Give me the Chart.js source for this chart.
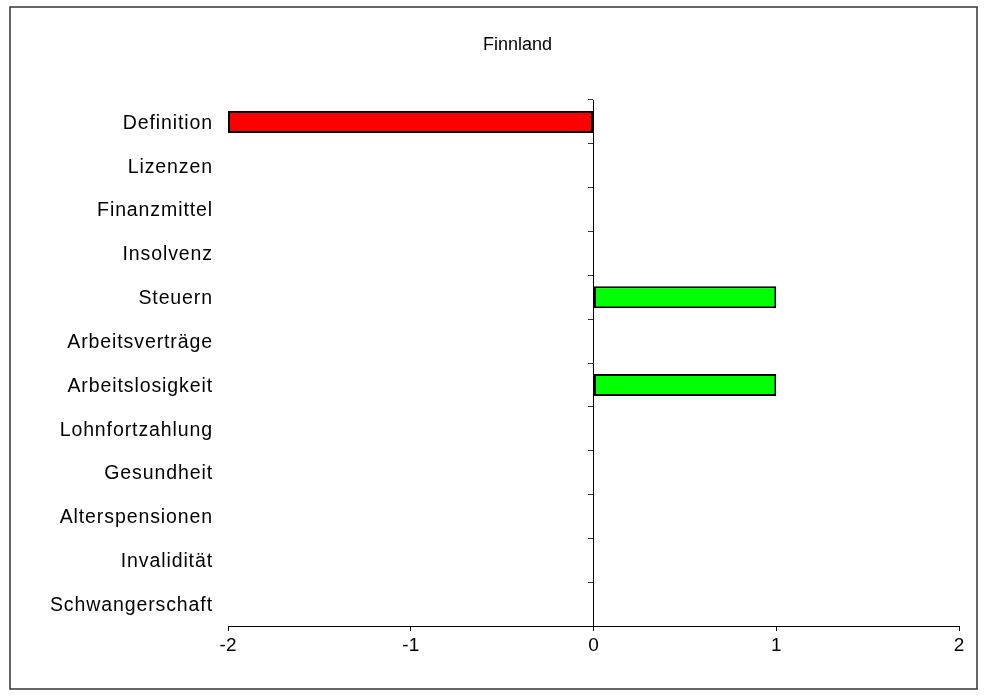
<!DOCTYPE html>
<html>
<head>
<meta charset="utf-8">
<title>Finnland</title>
<script src="https://cdn.jsdelivr.net/npm/chart.js@4/dist/chart.umd.min.js"></script>
<style>
  html, body { margin: 0; padding: 0; background: #fff; }
  #wrap { width: 984px; height: 696px; }
</style>
</head>
<body>
<div id="wrap"><canvas id="chart" width="984" height="696"></canvas></div>
<script>
// Categories, top to bottom
const categories = [
  'Definition', 'Lizenzen', 'Finanzmittel', 'Insolvenz', 'Steuern',
  'Arbeitsverträge', 'Arbeitslosigkeit', 'Lohnfortzahlung', 'Gesundheit',
  'Alterspensionen', 'Invalidität', 'Schwangerschaft'
];
// Score per category
const scores = [-2, 0, 0, 0, 1, 0, 1, 0, 0, 0, 0, 0];
// Value axis range and ticks
const xTicks = [-2, -1, 0, 1, 2];
const chartTitle = 'Finnland';

const FONT = '"Liberation Sans", Arial, sans-serif';

// White page with a thin frame around the whole chart
const framePlugin = {
  id: 'frame',
  beforeDraw(chart) {
    const ctx = chart.ctx;
    ctx.save();
    ctx.fillStyle = '#fff';
    ctx.fillRect(0, 0, chart.width, chart.height);
    ctx.strokeStyle = '#333';
    ctx.lineWidth = 1.5;
    ctx.strokeRect(10, 7, 967, 682);
    ctx.restore();
  }
};

// Slightly spaced lettering for the category labels; long labels may
// reach past the scale box, so they are not clipped to it
const spacedLabels = {
  id: 'spacedLabels',
  afterUpdate(chart) {
    const sc = chart.scales.y;
    if (!sc || sc._spaced) return;
    const orig = sc.drawLabels;
    sc._computeLabelArea = () => undefined;
    sc.drawLabels = function (area) {
      const ctx = this.ctx;
      ctx.save();
      ctx.letterSpacing = '0.9px';
      ctx.translate(0, 1.5);
      orig.call(this, area);
      ctx.restore();
    };
    sc._spaced = true;
  }
};

new Chart(document.getElementById('chart'), {
  type: 'bar',
  data: {
    labels: categories,
    datasets: [{
      data: scores,
      backgroundColor: scores.map(v => v < 0 ? '#FF0000' : '#00FF00'),
      borderColor: '#000',
      borderWidth: 2,
      borderSkipped: false,
      categoryPercentage: 1,
      barPercentage: 0.5,
      clip: false
    }]
  },
  options: {
    indexAxis: 'y',
    responsive: false,
    animation: false,
    devicePixelRatio: 1,
    layout: { padding: { left: 76, right: 25, top: 0, bottom: 40 } },
    plugins: {
      legend: { display: false },
      tooltip: { enabled: false },
      title: {
        display: true,
        text: chartTitle,
        color: '#000',
        font: { family: FONT, size: 18, weight: 'normal' },
        padding: { top: 34, bottom: 44.4 }
      }
    },
    scales: {
      x: {
        type: 'linear',
        position: 'bottom',
        min: xTicks[0],
        max: xTicks[xTicks.length - 1],
        afterBuildTicks(scale) { scale.ticks = xTicks.map(v => ({ value: v })); },
        afterFit(scale) { scale.height = 30; },
        grid: { display: true, drawOnChartArea: false, drawTicks: true, tickLength: 5, color: '#000', lineWidth: 1 },
        border: { display: true, color: '#000', width: 1 },
        ticks: { color: '#000', font: { family: FONT, size: 19 }, padding: 3, maxRotation: 0 }
      },
      y: {
        type: 'category',
        position: 'left',
        afterFit(scale) { scale.width = 152; },
        grid: { display: false, drawTicks: false },
        border: { display: false },
        ticks: { color: '#000', font: { family: FONT, size: 19.5 }, padding: 15, autoSkip: false }
      },
      y2: {
        type: 'category',
        axis: 'y',
        position: { x: 0 },
        labels: categories,
        offset: true,
        grid: { offset: true, drawOnChartArea: false, drawTicks: true, tickLength: 5, color: '#333', lineWidth: 1 },
        border: { display: true, color: '#000', width: 1 },
        ticks: { display: false }
      }
    }
  },
  plugins: [framePlugin, spacedLabels]
});
</script>
</body>
</html>
